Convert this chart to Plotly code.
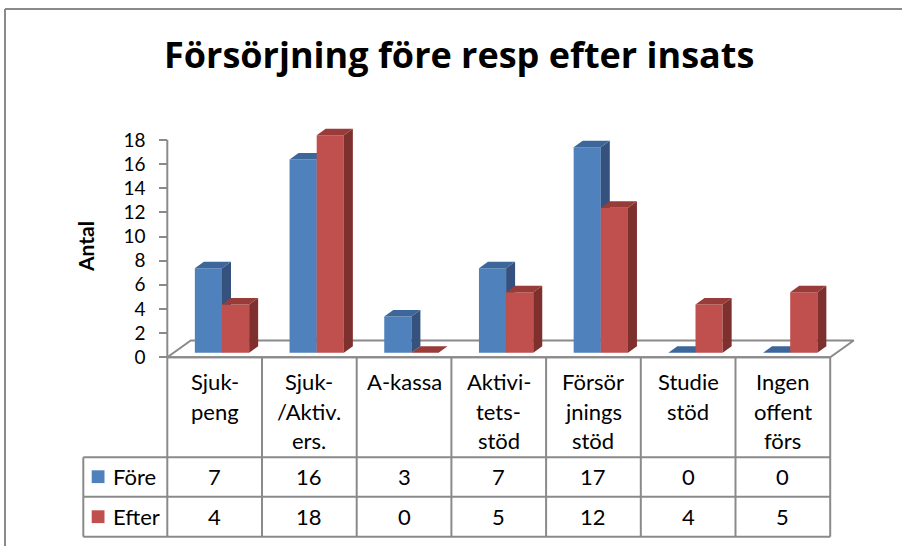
import plotly.graph_objects as go

# ---------------- data ----------------
category_lines = [
    ["Sjuk-", "peng"],
    ["Sjuk-", "/Aktiv.", "ers."],
    ["A-kassa"],
    ["Aktivi-", "tets-", "stöd"],
    ["Försör", "jnings", "stöd"],
    ["Studie", "stöd"],
    ["Ingen", "offent", "förs"],
]
series_names = ["Före", "Efter"]
fore_values = [7, 16, 3, 7, 17, 0, 0]
efter_values = [4, 18, 0, 5, 12, 4, 5]
y_tick_values = [0, 2, 4, 6, 8, 10, 12, 14, 16, 18]
title_text = "Försörjning före resp efter insats"
y_title = "Antal"

# ---------------- layout constants (pixels) ----------------
W, H = 902, 546
X0_PX, XSTEP_PX = 167.3, 94.7     # pixel of x=-0.5 and pixels per category
Y0_PX, YSTEP_PX = 357.3, 12.08    # pixel of y=0 and pixels per unit

def xd(px):
    return -0.5 + (px - X0_PX) / XSTEP_PX

def yd(py):
    return (Y0_PX - py) / YSTEP_PX

x_range = [xd(0), xd(W)]
y_range = [yd(H), yd(0)]

BAR_W = 27.15 / XSTEP_PX
SHIFT = 7.35 / XSTEP_PX
BASE = 4.6 / YSTEP_PX
DDX = 9.0 / XSTEP_PX
DDY = 6.5 / YSTEP_PX
FDX = 23.5 / XSTEP_PX
FDY = 16.8 / YSTEP_PX

GRAY = "#8a8a8a"
FONT = "Lato"
TITLE_FONT = "Open Sans"

colors = {
    "Före": ("#4F81BD", "#34527D", "#3D679A"),
    "Efter": ("#C0504D", "#7E302E", "#993B39"),
}

n = len(fore_values)
fig = go.Figure()

# floor
floor_x = [-0.5, n - 0.5, n - 0.5 + FDX, -0.5 + FDX, -0.5]
floor_y = [0, 0, FDY, FDY, 0]
fig.add_trace(go.Scatter(x=floor_x, y=floor_y, mode="lines", fill="toself",
                         fillcolor="white", line=dict(color=GRAY, width=2),
                         hoverinfo="skip", showlegend=False))


def faces(values, left_offset):
    fx, fy, sx, sy, tx, ty = [], [], [], [], [], []
    for i, v in enumerate(values):
        l = i + left_offset
        r = l + BAR_W
        b = BASE
        t = BASE + v
        fx += [l, r, r, l, l, None]
        fy += [b, b, t, t, b, None]
        sx += [r, r + DDX, r + DDX, r, r, None]
        sy += [b, b + DDY, t + DDY, t, b, None]
        tx += [l, r, r + DDX, l + DDX, l, None]
        ty += [t, t, t + DDY, t + DDY, t, None]
    return (fx, fy), (sx, sy), (tx, ty)


for name, vals, off in [("Före", fore_values, SHIFT - BAR_W),
                        ("Efter", efter_values, SHIFT)]:
    front, side, top = faces(vals, off)
    for (px_, py_), col in zip([front, side, top], colors[name]):
        fig.add_trace(go.Scatter(x=px_, y=py_, mode="lines", fill="toself",
                                 fillcolor=col, line=dict(width=0, color=col),
                                 hoverinfo="skip", showlegend=False, name=name))

shapes = []
# y axis line
shapes.append(dict(type="line", xref="x", yref="y", x0=-0.5, x1=-0.5,
                   y0=0, y1=max(y_tick_values), line=dict(color=GRAY, width=2)))

# table grid
row_top = yd(357.3)
row_hdr = yd(457.3)
row_mid = yd(496.7)
row_bot = yd(536.7)
x_left_tbl = xd(83.3)
for yy, x_start in [(row_top, -0.5), (row_hdr, x_left_tbl), (row_mid, x_left_tbl), (row_bot, x_left_tbl)]:
    shapes.append(dict(type="line", xref="x", yref="y", x0=x_start, x1=n - 0.5,
                       y0=yy, y1=yy, line=dict(color=GRAY, width=2)))
for k in range(n + 1):
    shapes.append(dict(type="line", xref="x", yref="y", x0=k - 0.5, x1=k - 0.5,
                       y0=row_top, y1=row_bot, line=dict(color=GRAY, width=2)))
shapes.append(dict(type="line", xref="x", yref="y", x0=x_left_tbl, x1=x_left_tbl,
                   y0=row_hdr, y1=row_bot, line=dict(color=GRAY, width=2)))

# legend keys
for name, cy in [("Före", 476.7), ("Efter", 516.7)]:
    shapes.append(dict(type="rect", xref="x", yref="y",
                       x0=xd(91.7), x1=xd(104.5), y0=yd(cy - 6.4), y1=yd(cy + 6.4),
                       fillcolor=colors[name][0], line=dict(width=0)))

# outer chart border
shapes.append(dict(type="line", xref="paper", yref="paper", x0=5 / W, x1=1,
                   y0=1 - 9 / H, y1=1 - 9 / H, line=dict(color=GRAY, width=2)))
shapes.append(dict(type="line", xref="paper", yref="paper", x0=5 / W, x1=5 / W,
                   y0=0, y1=1 - 9 / H, line=dict(color=GRAY, width=2)))

annotations = []
# category labels
line_px = [381.7, 411.2, 440.5]
for i, lines in enumerate(category_lines):
    for j, txt in enumerate(lines):
        annotations.append(dict(x=i, y=yd(line_px[j]), xref="x", yref="y", text=txt,
                                showarrow=False, xanchor="center", yanchor="middle",
                                font=dict(family=FONT, size=22, color="black")))
# values
for name, vals, cy in [("Före", fore_values, 476.7), ("Efter", efter_values, 516.7)]:
    annotations.append(dict(x=xd(111.0), y=yd(cy), xref="x", yref="y", text=name,
                            showarrow=False, xanchor="left", yanchor="middle",
                            font=dict(family=FONT, size=22, color="black")))
    for i, v in enumerate(vals):
        annotations.append(dict(x=i, y=yd(cy), xref="x", yref="y", text=str(v),
                                showarrow=False, xanchor="center", yanchor="middle",
                                font=dict(family=FONT, size=22, color="black")))
# title
annotations.append(dict(x=459 / W, y=1 - 55 / H, xref="paper", yref="paper",
                        text="<b>" + title_text + "</b>", showarrow=False,
                        xanchor="center", yanchor="middle",
                        font=dict(family=TITLE_FONT, size=36, color="black")))
# y title
annotations.append(dict(x=86 / W, y=1 - 247 / H, xref="paper", yref="paper",
                        text="<b>" + y_title + "</b>", showarrow=False, textangle=-90,
                        xanchor="center", yanchor="middle",
                        font=dict(family=FONT, size=21, color="black")))

fig.update_layout(
    width=W, height=H,
    margin=dict(l=0, r=0, t=0, b=0, pad=0),
    paper_bgcolor="white", plot_bgcolor="white",
    showlegend=False,
    xaxis=dict(range=x_range, visible=False, fixedrange=True),
    yaxis=dict(range=y_range, anchor="free", position=X0_PX / W,
               tickmode="array", tickvals=y_tick_values,
               ticktext=[str(v) for v in y_tick_values],
               ticks="outside", ticklen=8, tickwidth=2, tickcolor=GRAY,
               ticklabelstandoff=10,
               showgrid=False, zeroline=False, showline=False,
               tickfont=dict(family=FONT, size=19, color="black"), fixedrange=True),
    shapes=shapes,
    annotations=annotations,
)

fig.write_html(
    "out.html",
    config={"displayModeBar": False},
    post_script="document.body.style.margin='0px';document.body.style.overflow='hidden';",
)
